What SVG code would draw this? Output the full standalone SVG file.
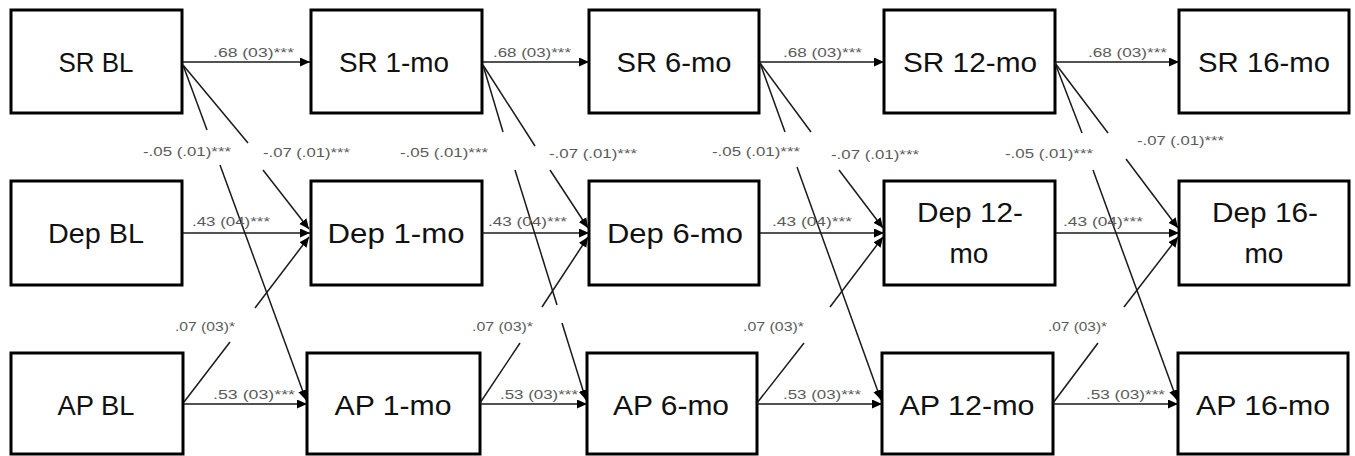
<svg xmlns="http://www.w3.org/2000/svg" width="1355" height="456" viewBox="0 0 1355 456">
<style>
.box{fill:#fff;stroke:#000;stroke-width:3}
.bt{font-family:"Liberation Sans",Arial,sans-serif;font-size:28px;fill:#111;text-anchor:middle}
.c line{stroke:#1a1a1a;stroke-width:1.5}
.c line.a{marker-end:url(#ah)}
.lb{font-family:"Liberation Sans",Arial,sans-serif;font-size:12px;fill:#5a5a5a}
</style>
<defs>
<marker id="ah" markerUnits="userSpaceOnUse" markerWidth="11" markerHeight="10" refX="10" refY="4.5" orient="auto">
<path d="M0,0 L10,4.5 L0,9 z" fill="#000"/>
</marker>
</defs>
<rect width="1355" height="456" fill="#fff"/>

<g id="sr-bl"><rect class="box" x="11" y="10" width="171" height="103"/><text class="bt" x="96" y="72" textLength="75" lengthAdjust="spacingAndGlyphs">SR BL</text></g>
<g id="sr-1"><rect class="box" x="311" y="10" width="171" height="103"/><text class="bt" x="394" y="72" textLength="110" lengthAdjust="spacingAndGlyphs">SR 1-mo</text></g>
<g id="sr-6"><rect class="box" x="589" y="10" width="170" height="103"/><text class="bt" x="674" y="72" textLength="115" lengthAdjust="spacingAndGlyphs">SR 6-mo</text></g>
<g id="sr-12"><rect class="box" x="884" y="10" width="171" height="103"/><text class="bt" x="970" y="72" textLength="134" lengthAdjust="spacingAndGlyphs">SR 12-mo</text></g>
<g id="sr-16"><rect class="box" x="1179" y="10" width="170" height="103"/><text class="bt" x="1264" y="72" textLength="132" lengthAdjust="spacingAndGlyphs">SR 16-mo</text></g>

<g id="dep-bl"><rect class="box" x="11" y="181" width="171" height="104"/><text class="bt" x="96" y="243" textLength="96" lengthAdjust="spacingAndGlyphs">Dep BL</text></g>
<g id="dep-1"><rect class="box" x="311" y="181" width="171" height="104"/><text class="bt" x="396" y="243" textLength="137" lengthAdjust="spacingAndGlyphs">Dep 1-mo</text></g>
<g id="dep-6"><rect class="box" x="589" y="181" width="170" height="104"/><text class="bt" x="675" y="243" textLength="136" lengthAdjust="spacingAndGlyphs">Dep 6-mo</text></g>
<g id="dep-12"><rect class="box" x="884" y="181" width="171" height="104"/><text class="bt" x="970" y="222" textLength="106" lengthAdjust="spacingAndGlyphs">Dep 12-</text><text class="bt" x="969" y="263">mo</text></g>
<g id="dep-16"><rect class="box" x="1179" y="181" width="170" height="104"/><text class="bt" x="1265" y="222" textLength="106" lengthAdjust="spacingAndGlyphs">Dep 16-</text><text class="bt" x="1264" y="263">mo</text></g>

<g id="ap-bl"><rect class="box" x="11" y="353" width="172" height="101"/><text class="bt" x="96" y="415" textLength="77" lengthAdjust="spacingAndGlyphs">AP BL</text></g>
<g id="ap-1"><rect class="box" x="307" y="353" width="173" height="101"/><text class="bt" x="393" y="415" textLength="117" lengthAdjust="spacingAndGlyphs">AP 1-mo</text></g>
<g id="ap-6"><rect class="box" x="587" y="353" width="170" height="101"/><text class="bt" x="671" y="415" textLength="116" lengthAdjust="spacingAndGlyphs">AP 6-mo</text></g>
<g id="ap-12"><rect class="box" x="882" y="353" width="171" height="101"/><text class="bt" x="967" y="415" textLength="135" lengthAdjust="spacingAndGlyphs">AP 12-mo</text></g>
<g id="ap-16"><rect class="box" x="1178" y="353" width="170" height="101"/><text class="bt" x="1263" y="415" textLength="134" lengthAdjust="spacingAndGlyphs">AP 16-mo</text></g>

<g id="connectors" class="c">
<!-- column 1 -->
<line class="a" x1="183" y1="62" x2="310" y2="62"/>
<line x1="183" y1="65" x2="207" y2="130"/><line class="a" x1="220" y1="165" x2="306" y2="400"/>
<line x1="183" y1="65" x2="248" y2="143"/><line class="a" x1="263" y1="170" x2="309" y2="229"/>
<line class="a" x1="183" y1="233" x2="310" y2="233"/>
<line class="a" x1="184" y1="404" x2="307" y2="404"/>
<line x1="184" y1="402" x2="230" y2="342"/><line class="a" x1="255" y1="308" x2="309" y2="237"/>
<!-- column 2 -->
<line class="a" x1="483" y1="62" x2="589" y2="62"/>
<line x1="483" y1="65" x2="503" y2="132"/><line x1="515" y1="170" x2="557" y2="305"/><line class="a" x1="562" y1="323" x2="586" y2="400"/>
<line x1="483" y1="65" x2="535" y2="146"/><line class="a" x1="550" y1="170" x2="588" y2="228"/>
<line class="a" x1="482" y1="233" x2="589" y2="233"/>
<line class="a" x1="480" y1="404" x2="587" y2="404"/>
<line x1="480" y1="403" x2="520" y2="343"/><line class="a" x1="542" y1="307" x2="588" y2="237"/>
<!-- column 3 -->
<line class="a" x1="760" y1="62" x2="884" y2="62"/>
<line x1="760" y1="63" x2="785" y2="132"/><line class="a" x1="797" y1="167" x2="881" y2="400"/>
<line x1="760" y1="63" x2="811" y2="132"/><line class="a" x1="839" y1="170" x2="883" y2="228"/>
<line class="a" x1="760" y1="233" x2="884" y2="233"/>
<line class="a" x1="757" y1="404" x2="882" y2="404"/>
<line x1="757" y1="403" x2="804" y2="343"/><line class="a" x1="830" y1="307" x2="883" y2="237"/>
<!-- column 4 -->
<line class="a" x1="1055" y1="62" x2="1179" y2="62"/>
<line x1="1055" y1="63" x2="1082" y2="133"/><line class="a" x1="1093" y1="170" x2="1177" y2="400"/>
<line x1="1055" y1="63" x2="1108" y2="133"/><line class="a" x1="1126" y1="159" x2="1178" y2="228"/>
<line class="a" x1="1056" y1="233" x2="1179" y2="233"/>
<line class="a" x1="1053" y1="404" x2="1178" y2="404"/>
<line x1="1053" y1="403" x2="1098" y2="343"/><line class="a" x1="1124" y1="307" x2="1178" y2="237"/>
</g>

<g id="labels" class="lb">
<text x="213" y="57" textLength="81" lengthAdjust="spacingAndGlyphs">.68 (03)***</text>
<text x="143" y="156" textLength="88" lengthAdjust="spacingAndGlyphs">-.05 (.01)***</text>
<text x="263" y="157" textLength="87" lengthAdjust="spacingAndGlyphs">-.07 (.01)***</text>
<text x="192" y="226" textLength="78" lengthAdjust="spacingAndGlyphs">.43 (04)***</text>
<text x="175" y="331" textLength="60" lengthAdjust="spacingAndGlyphs">.07 (03)*</text>
<text x="213" y="399" textLength="82" lengthAdjust="spacingAndGlyphs">.53 (03)***</text>

<text x="493" y="57" textLength="78" lengthAdjust="spacingAndGlyphs">.68 (03)***</text>
<text x="400" y="157" textLength="88" lengthAdjust="spacingAndGlyphs">-.05 (.01)***</text>
<text x="549" y="158" textLength="88" lengthAdjust="spacingAndGlyphs">-.07 (.01)***</text>
<text x="488" y="226" textLength="79" lengthAdjust="spacingAndGlyphs">.43 (04)***</text>
<text x="472" y="331" textLength="61" lengthAdjust="spacingAndGlyphs">.07 (03)*</text>
<text x="500" y="399" textLength="78" lengthAdjust="spacingAndGlyphs">.53 (03)***</text>

<text x="783" y="57" textLength="79" lengthAdjust="spacingAndGlyphs">.68 (03)***</text>
<text x="712" y="156" textLength="88" lengthAdjust="spacingAndGlyphs">-.05 (.01)***</text>
<text x="831" y="159" textLength="88" lengthAdjust="spacingAndGlyphs">-.07 (.01)***</text>
<text x="772" y="226" textLength="80" lengthAdjust="spacingAndGlyphs">.43 (04)***</text>
<text x="743" y="331" textLength="61" lengthAdjust="spacingAndGlyphs">.07 (03)*</text>
<text x="783" y="399" textLength="78" lengthAdjust="spacingAndGlyphs">.53 (03)***</text>

<text x="1088" y="57" textLength="79" lengthAdjust="spacingAndGlyphs">.68 (03)***</text>
<text x="1005" y="158" textLength="88" lengthAdjust="spacingAndGlyphs">-.05 (.01)***</text>
<text x="1137" y="145" textLength="87" lengthAdjust="spacingAndGlyphs">-.07 (.01)***</text>
<text x="1063" y="226" textLength="80" lengthAdjust="spacingAndGlyphs">.43 (04)***</text>
<text x="1048" y="331" textLength="59" lengthAdjust="spacingAndGlyphs">.07 (03)*</text>
<text x="1086" y="399" textLength="79" lengthAdjust="spacingAndGlyphs">.53 (03)***</text>
</g>
</svg>
